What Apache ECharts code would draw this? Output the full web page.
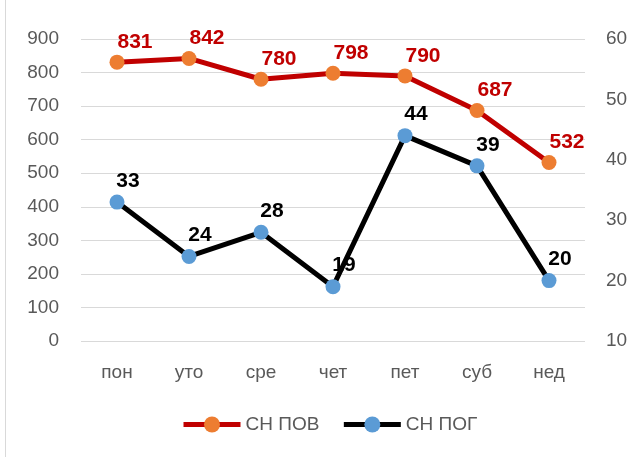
<!DOCTYPE html>
<html><head><meta charset="utf-8">
<script src="https://cdn.jsdelivr.net/npm/echarts@6/dist/echarts.min.js"></script>
<style>html,body{margin:0;padding:0;background:#fff}#c{width:643px;height:457px}</style>
</head><body><div id="c"></div>
<script>
const categories = ['пон','уто','сре','чет','пет','суб','нед'];
const povValues = [831, 842, 780, 798, 790, 687, 532];
const pogValues = [33, 24, 28, 19, 44, 39, 20];
const povName = 'СН ПОВ';
const pogName = 'СН ПОГ';

const font = 'Liberation Sans, Arial, sans-serif';
const chart = echarts.init(document.getElementById('c'));
chart.setOption({
  animation: false,
  backgroundColor: '#fff',
  graphic: [{type:'line', shape:{x1:5.5,y1:0,x2:5.5,y2:457}, style:{stroke:'#d9d9d9', lineWidth:1}}],
  grid: {left: 81, right: 58, top: 39, bottom: 116},
  legend: {
    data: [povName, pogName],
    bottom: 18, left: 176,
    itemWidth: 57, itemHeight: 20, itemGap: 22,
    lineStyle: {width: 5},
    textStyle: {fontFamily: font, fontSize: 19, color: '#595959'}
  },
  xAxis: {
    type: 'category', data: categories,
    axisLine: {show: false}, axisTick: {show: false},
    axisLabel: {fontFamily: font, fontSize: 19, color: '#595959', margin: 22}
  },
  yAxis: [
    {type: 'value', min: 0, max: 900, interval: 100,
     axisLine: {show:false}, axisTick:{show:false},
     splitLine: {lineStyle: {color: '#d9d9d9', width: 1}},
     axisLabel: {fontFamily: font, fontSize: 19, color: '#595959', margin: 22}},
    {type: 'value', min: 10, max: 60, interval: 10,
     axisLine: {show:false}, axisTick:{show:false},
     splitLine: {show: false},
     axisLabel: {fontFamily: font, fontSize: 19, color: '#595959', margin: 21}}
  ],
  series: [
    {name: povName, type: 'line', yAxisIndex: 0, data: povValues,
     symbol: 'circle', symbolSize: 15,
     lineStyle: {color: '#C00000', width: 5},
     itemStyle: {color: '#ED7D31'},
     label: {show: true, position: 'top', offset: [18, 3], fontFamily: font, fontSize: 21, fontWeight: 'bold', color: '#C00000'}},
    {name: pogName, type: 'line', yAxisIndex: 1, data: pogValues,
     symbol: 'circle', symbolSize: 15,
     lineStyle: {color: '#000', width: 5},
     itemStyle: {color: '#5B9BD5'},
     label: {show: true, position: 'top', offset: [11, 2], fontFamily: font, fontSize: 21, fontWeight: 'bold', color: '#000'}}
  ]
});
</script></body></html>
